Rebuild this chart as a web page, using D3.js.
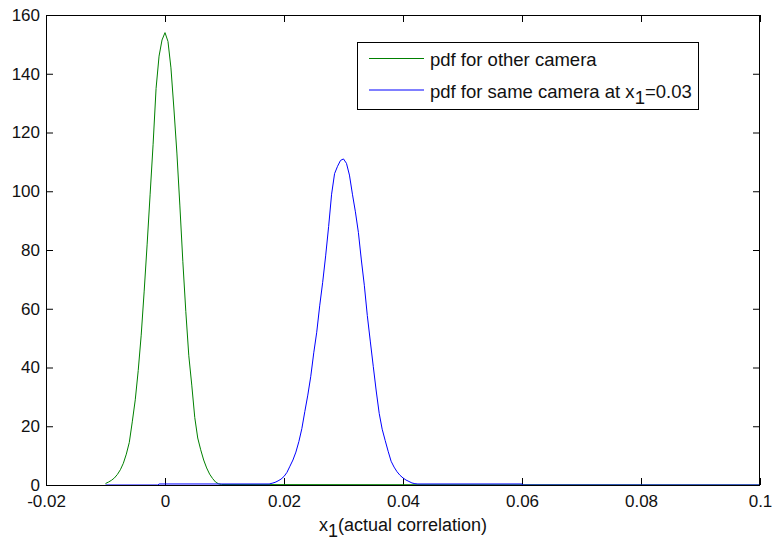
<!DOCTYPE html>
<html>
<head>
<meta charset="utf-8">
<script src="https://cdn.jsdelivr.net/npm/d3@7/dist/d3.min.js"></script>
<style>
  html, body { margin: 0; padding: 0; background: #fff; }
  svg { display: block; }
  text { font-family: "Liberation Sans", Arial, Helvetica, sans-serif; fill: #111; }
</style>
</head>
<body>
<svg id="chart" width="772" height="543"></svg>
<script>
// ---- data ----
const xTicks = [-0.02, 0, 0.02, 0.04, 0.06, 0.08, 0.1];
const yTicks = [0, 20, 40, 60, 80, 100, 120, 140, 160];
const xDomain = [-0.02, 0.1];
const yDomain = [0, 160];

const seriesNames = ["pdf for other camera", "pdf for same camera at x"];

// pdf for other camera (green)
const greenX = [-0.0100, -0.0095, -0.0090, -0.0085, -0.0080, -0.0075, -0.0070, -0.0065, -0.0060, -0.0055,
                -0.0050, -0.0045, -0.0040, -0.0035, -0.0030, -0.0025, -0.0020, -0.0015, -0.0010, -0.0005,
                 0.0000,  0.0005,  0.0010,  0.0015,  0.0020,  0.0025,  0.0030,  0.0035,  0.0040,  0.0045,
                 0.0050,  0.0055,  0.0060,  0.0065,  0.0070,  0.0075,  0.0080,  0.0085,  0.0090,  0.0095,
                 0.1000];
const greenY = [0.5, 1.0, 1.6, 2.4, 3.6, 5.2, 7.4, 10.5, 14.5, 21.5,
                29, 39, 51, 66, 82, 99, 116, 135, 146, 151.5,
                154, 151, 142, 128, 113, 95, 76, 59, 44, 34,
                23, 16, 12, 8.5, 5.8, 3.7, 2.2, 1.0, 0.4, 0.15,
                0.0];

// pdf for same camera at x1 = 0.03 (blue)
const blueX = [-0.0100, -0.0012, -0.0010, 0.0175, 0.0180, 0.0185, 0.0190, 0.0195, 0.0200, 0.0205,
                0.0210, 0.0215, 0.0220, 0.0225, 0.0230, 0.0235, 0.0240, 0.0245, 0.0250, 0.0255,
                0.0260, 0.0265, 0.0270, 0.0275, 0.0280, 0.0285, 0.0290, 0.0295, 0.0300, 0.0305,
                0.0310, 0.0315, 0.0320, 0.0325, 0.0330, 0.0335, 0.0340, 0.0345, 0.0350, 0.0355,
                0.0360, 0.0365, 0.0370, 0.0375, 0.0380, 0.0385, 0.0390, 0.0395, 0.0400, 0.0405,
                0.0410, 0.0415, 0.0420, 0.0425, 0.0600, 0.0601, 0.1000];
const blueY = [0.0, 0.0, 0.35, 0.35, 0.6, 0.9, 1.4, 2.0, 2.9, 4.3,
               6.4, 8.5, 11.2, 14.8, 19.2, 25, 30.6, 37, 45, 52,
               61, 69, 78, 88, 99, 106, 108.5, 110.5, 111, 109.5,
               105.5, 99, 93, 86, 76.6, 68, 57.7, 49, 40.4, 32,
               24.4, 19, 15.2, 11.5, 8.1, 6.1, 4.5, 3.3, 2.4, 1.7,
               1.2, 0.7, 0.45, 0.35, 0.35, 0.0, 0.0];

// ---- layout ----
const W = 772, H = 543;
const plot = { left: 46, top: 15, right: 760, bottom: 485 };

const svg = d3.select("#chart");
svg.append("rect").attr("width", W).attr("height", H).attr("fill", "#fff");

const x = d3.scaleLinear().domain(xDomain).range([plot.left, plot.right]);
const y = d3.scaleLinear().domain(yDomain).range([plot.bottom, plot.top]);

svg.append("defs").append("clipPath").attr("id", "clip")
  .append("rect")
  .attr("x", plot.left).attr("y", plot.top - 1)
  .attr("width", plot.right - plot.left).attr("height", plot.bottom - plot.top + 1);

const fmt = d => String(+d.toFixed(2));
const fontSize = 17;
const legendFont = 18.5;
const labelFont = 18;

// Axes (ticks pointing inward, MATLAB style)
const gx = svg.append("g").attr("transform", `translate(0,${plot.bottom})`)
  .call(d3.axisBottom(x).tickValues(xTicks).tickFormat(fmt).tickSize(-7).tickPadding(10));
const gxTop = svg.append("g").attr("transform", `translate(0,${plot.top})`)
  .call(d3.axisTop(x).tickValues(xTicks).tickFormat("").tickSize(-7));
const gy = svg.append("g").attr("transform", `translate(${plot.left},0)`)
  .call(d3.axisLeft(y).tickValues(yTicks).tickFormat(fmt).tickSize(-7).tickPadding(6));
const gyRight = svg.append("g").attr("transform", `translate(${plot.right},0)`)
  .call(d3.axisRight(y).tickValues(yTicks).tickFormat("").tickSize(-7));

[gx, gxTop, gy, gyRight].forEach(g => {
  g.select(".domain").remove();
  g.selectAll(".tick line").attr("stroke", "#000").attr("stroke-width", 1);
  g.selectAll(".tick text")
    .attr("font-family", "'Liberation Sans', Arial, Helvetica, sans-serif")
    .attr("font-size", fontSize).attr("fill", "#111");
});

// Lines
const line = d3.line().x(d => x(d[0])).y(d => y(d[1]));
const lines = svg.append("g").attr("clip-path", "url(#clip)");
lines.append("path")
  .datum(d3.zip(greenX, greenY))
  .attr("d", line).attr("fill", "none").attr("stroke", "#008000").attr("stroke-width", 1);
lines.append("path")
  .datum(d3.zip(blueX, blueY))
  .attr("d", line).attr("fill", "none").attr("stroke", "#0000ff").attr("stroke-width", 1);

// Box
svg.append("rect")
  .attr("x", plot.left + 0.5).attr("y", plot.top + 0.5)
  .attr("width", plot.right - plot.left - 1).attr("height", plot.bottom - plot.top)
  .attr("fill", "none").attr("stroke", "#000").attr("stroke-width", 1);

// X axis label
const xl = svg.append("text")
  .attr("x", (plot.left + plot.right) / 2).attr("y", 531)
  .attr("text-anchor", "middle").attr("font-size", labelFont);
xl.append("tspan").text("x");
xl.append("tspan").attr("dy", 6).text("1");
xl.append("tspan").attr("dy", -6).text("(actual correlation)");

// Legend
const legend = svg.append("g");
legend.append("rect")
  .attr("x", 357.5).attr("y", 42.5).attr("width", 341).attr("height", 67)
  .attr("fill", "#fff").attr("stroke", "#000").attr("stroke-width", 1);
const legItems = [
  { name: seriesNames[0], color: "#008000", sub: null, tail: null },
  { name: seriesNames[1], color: "#0000ff", sub: "1", tail: "=0.03" }
];
legItems.forEach((it, i) => {
  const ly = 58.5 + i * 31.5;
  legend.append("line")
    .attr("x1", 369).attr("x2", 424).attr("y1", ly).attr("y2", ly)
    .attr("stroke", it.color).attr("stroke-width", 1);
  const t = legend.append("text").attr("x", 430).attr("y", ly + 7.5).attr("font-size", legendFont);
  t.append("tspan").text(it.name);
  if (it.sub) {
    t.append("tspan").attr("dy", 6).text(it.sub);
    t.append("tspan").attr("dy", -6).text(it.tail);
  }
});
</script>
</body>
</html>
